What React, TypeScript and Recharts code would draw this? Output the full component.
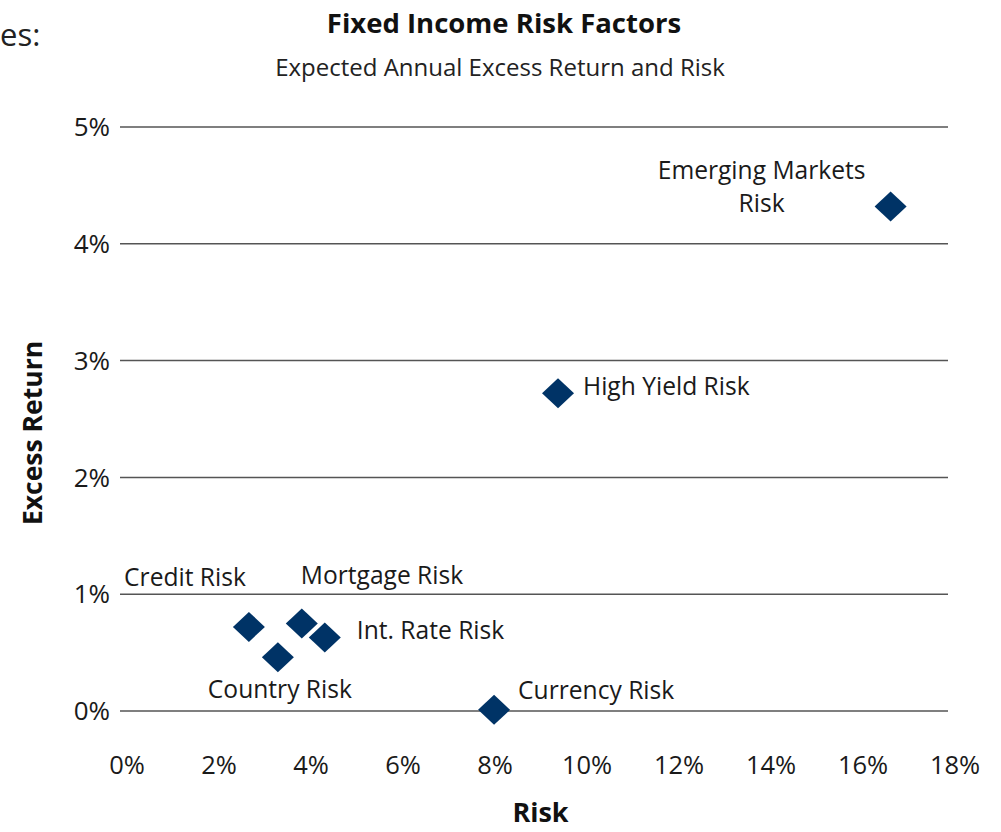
import React from "react";
import { ScatterChart, Scatter, XAxis, YAxis, CartesianGrid } from "recharts";

const factors = [
  "Credit Risk",
  "Mortgage Risk",
  "Int. Rate Risk",
  "Country Risk",
  "Currency Risk",
  "High Yield Risk",
  "Emerging Markets Risk",
];
const riskValues = [2.65, 3.8, 4.3, 3.28, 7.98, 9.37, 16.6];
const returnValues = [0.72, 0.75, 0.63, 0.46, 0.01, 2.72, 4.32];
const xTicks = [0, 2, 4, 6, 8, 10, 12, 14, 16, 18];
const yTicks = [0, 1, 2, 3, 4, 5];

const data = factors.map((name, i) => ({
  name,
  risk: riskValues[i],
  ret: returnValues[i],
}));

// where each label sits relative to its marker
const labelPlacement: Record<string, { dx: number; dy: number; anchor: string; lines?: string[] }> = {
  "Credit Risk": { dx: -3, dy: -41, anchor: "end" },
  "Mortgage Risk": { dx: -1, dy: -39, anchor: "start" },
  "Int. Rate Risk": { dx: 32, dy: 2, anchor: "start" },
  "Country Risk": { dx: 2, dy: 41, anchor: "middle" },
  "Currency Risk": { dx: 24, dy: -11, anchor: "start" },
  "High Yield Risk": { dx: 25, dy: 2, anchor: "start" },
  "Emerging Markets Risk": { dx: -129, dy: -27, anchor: "middle", lines: ["Emerging Markets", "Risk"] },
};

const NAVY = "#003366";
const FONT = "'Open Sans', sans-serif";

const Diamond = (props: any) => {
  const { cx, cy, payload } = props;
  const p = labelPlacement[payload.name];
  const lines = p.lines ?? [payload.name];
  return (
    <g>
      <polygon
        points={`${cx},${cy - 15} ${cx + 16},${cy} ${cx},${cy + 15} ${cx - 16},${cy}`}
        fill={NAVY}
      />
      {lines.map((t, i) => (
        <text
          key={t}
          x={cx + p.dx}
          y={cy + p.dy + i * 33}
          textAnchor={p.anchor as any}
          fontSize={24.6}
          fontFamily={FONT}
          fill="#1a1a1a"
        >
          {t}
        </text>
      ))}
    </g>
  );
};

const gridLine = (props: any) => (
  <line
    key={`g-${props.y1}`}
    x1={props.x1 - 7}
    x2={props.x2 - 7}
    y1={props.y1}
    y2={props.y2}
    stroke="#555"
    strokeWidth={1.5}
  />
);

export default function App() {
  return (
    <div style={{ position: "absolute", left: 0, top: 0, width: 1001, height: 832, background: "#fff", overflow: "hidden", fontFamily: FONT }}>
      <div style={{ position: "absolute", left: 0, top: 14, fontSize: 31, lineHeight: "40px", color: "#222", whiteSpace: "nowrap" }}>es:</div>
      <div style={{ position: "absolute", left: 0, width: 1008, top: 4, textAlign: "center", fontSize: 27.5, fontWeight: 700, color: "#111" }}>
        Fixed Income Risk Factors
      </div>
      <div style={{ position: "absolute", left: 0, width: 1000, top: 50, textAlign: "center", fontSize: 24, color: "#222" }}>
        Expected Annual Excess Return and Risk
      </div>
      <div
        style={{
          position: "absolute",
          left: 32,
          top: 433,
          transform: "translate(-50%, -50%) rotate(-90deg)",
          fontSize: 26.5,
          fontWeight: 700,
          color: "#111",
          whiteSpace: "nowrap",
        }}
      >
        Excess Return
      </div>
      <div style={{ position: "absolute", left: 0, width: 1081, top: 798, lineHeight: "28px", textAlign: "center", fontSize: 27, fontWeight: 700, color: "#111" }}>
        Risk
      </div>
      <ScatterChart width={1001} height={832} margin={{ top: 127, right: 46, left: 67, bottom: 81 }}>
        <CartesianGrid vertical={false} horizontal={gridLine} />
        <XAxis
          type="number"
          dataKey="risk"
          domain={[0, 18]}
          ticks={xTicks}
          tickFormatter={(v) => `${v}%`}
          axisLine={false}
          tickLine={false}
          tickSize={0}
          tickMargin={45}
          height={40}
          interval={0}
          tick={{ fontSize: 25.5, fill: "#1a1a1a", fontFamily: FONT }}
        />
        <YAxis
          type="number"
          dataKey="ret"
          domain={[0, 5]}
          ticks={yTicks}
          tickFormatter={(v) => `${v}%`}
          axisLine={false}
          tickLine={false}
          tickSize={0}
          tickMargin={17}
          width={60}
          interval={0}
          tick={{ fontSize: 26, fill: "#1a1a1a", fontFamily: FONT }}
        />
        <Scatter data={data} shape={Diamond} isAnimationActive={false} />
      </ScatterChart>
    </div>
  );
}
